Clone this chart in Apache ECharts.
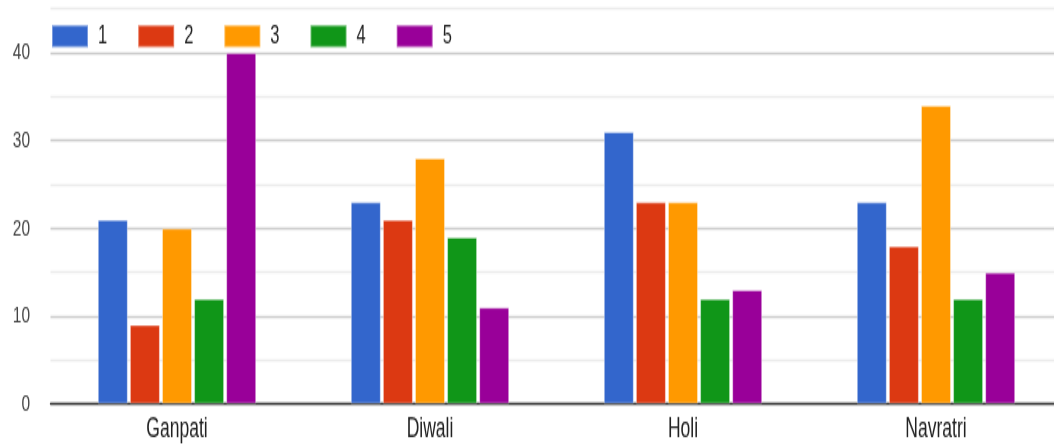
<!DOCTYPE html>
<html>
<head>
<meta charset="utf-8">
<script src="https://cdn.jsdelivr.net/npm/echarts@6/dist/echarts.min.js"></script>
<style>
  html, body { margin: 0; padding: 0; background: #fff; width: 1054px; height: 447px; overflow: hidden; }
  #frame { position: relative; width: 1054px; height: 447px; overflow: hidden; }
  #chart { position: absolute; left: 0; top: 0; width: 1070px; transform-origin: 0 0; }
</style>
</head>
<body>
<div id="frame"><div id="chart"></div></div>
<script>
// Festival categories and the count of responses for each rating (1-5)
const festivals = ['Ganpati', 'Diwali', 'Holi', 'Navratri'];
const ratingNames = ['1', '2', '3', '4', '5'];
const rating1 = [21, 23, 31, 23];
const rating2 = [9, 21, 23, 18];
const rating3 = [20, 28, 23, 34];
const rating4 = [12, 19, 12, 12];
const rating5 = [40, 11, 13, 15];
const ratingColors = ['#3366cc', '#dc3912', '#ff9900', '#109618', '#990099'];

// The chart is drawn in a shorter box and stretched vertically to the page height;
// the plot runs a little past the right edge of the frame, which clips it.
const STRETCH = 1.55;
const PAGE_H = 447;
const el = document.getElementById('chart');
el.style.height = (PAGE_H / STRETCH) + 'px';
el.style.transform = 'scaleY(' + STRETCH + ')';

const values = [rating1, rating2, rating3, rating4, rating5];
const FONT = '"Liberation Sans", Arial, sans-serif';

const chart = echarts.init(el, null, { renderer: 'canvas' });
chart.setOption({
  animation: false,
  color: ratingColors,
  legend: {
    left: 51,
    top: 14.8,
    padding: 0,
    icon: 'rect',
    itemWidth: 36,
    itemHeight: 14.2,
    itemGap: 30,
    textStyle: { fontFamily: FONT, fontSize: 16.5, color: '#222', padding: [0, 0, 0, 5] },
    data: ratingNames
  },
  grid: { left: 50.5, width: 1012, top: 5.7, bottom: 27.4, containLabel: false },
  xAxis: {
    type: 'category',
    data: festivals,
    axisTick: { show: false },
    axisLine: { lineStyle: { color: '#333', width: 1.3 } },
    axisLabel: { fontFamily: FONT, fontSize: 17.5, color: '#222', margin: 8 }
  },
  yAxis: {
    type: 'value',
    min: 0,
    max: 45,
    interval: 5,
    axisLine: { show: false },
    axisTick: { show: false },
    axisLabel: {
      fontFamily: FONT, fontSize: 15.5, color: '#444', margin: 20.5,
      formatter: v => (v % 10 === 0 && v <= 40) ? String(v) : ''
    },
    splitLine: { lineStyle: { color: ['#cccccc', '#ebebeb'], width: 1.3 } }
  },
  series: ratingNames.map((name, i) => ({
    name: name,
    type: 'bar',
    data: values[i],
    barGap: '7%',
    barCategoryGap: '37.4%',
    itemStyle: { borderColor: 'rgba(255,255,255,0.35)', borderWidth: 1 }
  }))
});
</script>
</body>
</html>
